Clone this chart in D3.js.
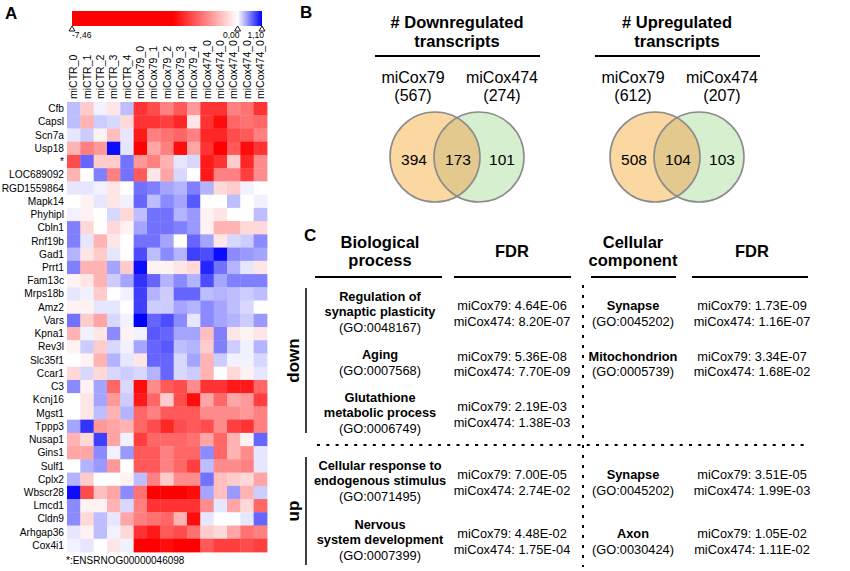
<!DOCTYPE html>
<html lang="en">
<head>
  <meta charset="UTF-8">
  <title>miCox heatmap, Venn and GO table</title>
  <style>
    body { margin: 0; background: #fff; }
    svg { display: block; font-family: "Liberation Sans", Arial, sans-serif; }
  </style>
</head>
<body>
  <div id="svg"></div>
  <script src="https://d3js.org/d3.v7.min.js"></script>
  <script>
// ---- data -------------------------------------------------------------
const colLabels = ['miCTR_0','miCTR_1','miCTR_2','miCTR_3','miCTR_4',
  'miCox79_0','miCox79_1','miCox79_2','miCox79_3','miCox79_4',
  'miCox474_0','miCox474_0','miCox474_0','miCox474_0','miCox474_0']
const rowLabels = ['Cfb','Capsl','Scn7a','Usp18','*','LOC689092','RGD1559864','Mapk14',
  'Phyhipl','Cbln1','Rnf19b','Gad1','Prrt1','Fam13c','Mrps18b','Amz2','Vars','Kpna1',
  'Rev3l','Slc35f1','Ccar1','C3','Kcnj16','Mgst1','Tppp3','Nusap1','Gins1','Sulf1',
  'Cplx2','Wbscr28','Lmcd1','Cldn9','Arhgap36','Cox4i1']
const heatValues = [
  [0.28,-0.58,0.06,-0.29,0.28,-2.32,-2.03,-1.45,-1.89,-1.16,-2.32,-2.32,-1.45,-1.6,-2.32],
  [0.28,-0.87,0.22,0.17,-0.44,-2.32,-2.32,-2.18,-2.47,-0.29,-2.32,-2.76,-1.74,-1.6,-1.74],
  [0.11,0.22,-0.15,-0.73,0.11,-2.61,-1.45,-1.6,-1.74,-1.45,-2.47,-2.47,-2.03,-1.89,-1.45],
  [-0.87,-1.45,-1.16,1.05,0.11,-2.9,-1.02,-1.45,-2.76,-1.02,-2.32,-2.9,-1.89,-2.76,-2.32],
  [-2.03,0.66,-0.58,-0.58,0.61,-1.16,-1.45,-0.87,0.11,0.17,-2.61,-2.32,-0.58,-2.47,-1.31],
  [-0.87,0,0.55,-1.45,0.61,-1.89,-0.29,-1.02,0.17,0,-2.61,-1.45,-1.45,-2.18,-1.31],
  [0.11,0.11,0.06,-0.29,0,0.61,0.55,0.39,0.33,0.55,0.33,-0.44,-0.58,0.06,0],
  [0,-0.15,0.11,-0.29,0.06,0.66,0.28,0.5,0.39,0.72,0,0,0.28,0,0.06],
  [0.06,-0.15,0,0.17,-0.44,0.28,0.61,0.61,0.33,0.44,-0.15,-0.29,0,0,0.28],
  [0.55,-0.44,0,-0.44,-0.15,0.39,0.61,0.61,0.55,0.44,-0.15,-0.87,-0.87,-0.44,-0.44],
  [0.55,0.11,-0.87,-0.29,0,0.61,0.61,0.39,0,0.66,0.39,-0.29,0.17,0.22,0.5],
  [0.33,-0.29,-0.58,0.11,0,0.77,0.28,0.5,0.33,0.83,0.77,1.05,0.5,0.44,0.39],
  [0.55,-0.87,-0.87,0.39,-0.58,1.05,-0.15,-0.15,-0.29,-0.44,0.94,0.61,0.33,0.11,-0.29],
  [-0.15,-0.29,-0.87,0.22,0.39,0.88,0.66,0.33,0.5,0.33,0.77,0.39,0.55,0.55,0.55],
  [0.11,0.06,-0.58,0,0.06,0.83,0.33,0.22,0.66,0.66,0.28,0.33,0.28,0.22,0.28],
  [-0.15,-0.15,0.11,0.11,0,0.83,0.22,0.22,0.39,0.33,0.5,0.39,0.28,0.17,0],
  [0.61,-0.58,-1.02,0.17,0.06,1.1,0.66,0.77,0.5,0.11,0.5,0.39,0.33,0.22,0.44],
  [-0.87,0.06,-0.29,0.5,-0.15,0.06,0.72,0.66,0.39,0.39,-0.73,0.55,-0.29,-0.15,-0.29],
  [-0.15,0.22,-0.58,0.17,0.06,0.39,0.66,0.72,0.28,0.33,-0.58,0.55,0.22,0.06,0.33],
  [0,-0.15,-0.87,0.33,0.11,-0.29,0.66,0.66,0.17,0.39,-0.87,0.22,0.06,0.06,0.17],
  [-0.44,0.17,-0.44,0.17,0.22,0.17,0.33,0.66,0.17,0.22,-0.87,0,-0.44,-0.15,0.11],
  [0.5,-0.15,0.39,-1.74,0.17,-2.76,-1.31,-1.89,-2.03,-1.31,-2.32,-2.32,-2.61,-2.61,-1.74],
  [0,-0.29,0.39,-1.16,0.22,-2.61,-1.74,-0.58,-2.03,-2.76,-1.02,-1.74,-1.02,-1.16,-2.18],
  [0,-0.29,0.28,-0.87,0.33,-1.74,-1.45,-1.89,-1.89,-1.89,-1.31,-1.31,-1.31,-1.16,-1.45],
  [0.39,0.88,-1.16,-1.02,-0.87,-1.74,-2.03,-2.47,-2.03,-1.89,-2.03,-1.31,-2.18,-2.32,-1.45],
  [-0.87,-0.44,0.83,-1.02,0.06,-2.18,-1.74,-1.74,-1.74,-1.6,-1.02,-1.74,-0.87,-0.15,0.66],
  [-1.02,-1.02,0.5,0.06,0.44,-1.89,-1.89,-1.45,-1.74,-1.74,0.5,-1.74,-0.87,-1.31,0.11],
  [0,0.33,0.44,-1.16,0,-1.89,-1.89,-1.45,-1.74,-2.18,0.28,-1.31,-1.31,-1.45,0.11],
  [0.33,-0.58,0,0,-0.15,0.28,-1.45,-0.58,-1.31,-1.31,0.61,-0.73,-0.58,-0.44,-1.02],
  [1.05,-2.03,-0.73,-1.02,0.5,-1.6,-2.9,-2.9,-2.9,-2.76,0.39,-0.73,0.44,-0.87,0.22],
  [0.5,-0.15,-0.15,-0.87,0.17,-1.45,-2.32,-2.32,-2.32,-2.32,-1.31,0.11,-1.02,-0.44,-1.74],
  [0.5,-0.44,0.28,0.11,-1.02,-1.45,-1.6,-1.74,-0.87,-2.76,0.11,0,0,0.11,0.66],
  [0.11,-0.15,0.28,0.06,-0.44,-2.32,-2.61,-1.89,-2.03,-1.6,-0.58,-0.44,-1.02,-1.6,-1.45],
  [0.06,0.11,0,-0.29,0.06,-2.9,-2.9,-2.76,-2.9,-2.9,-1.89,-2.18,-2.18,-2.03,-2.18]
]
const legendTicks = [-7.46, 0, 1.10]
const legendTickLabels = ['-7,46', '0,00', '1,10']
const footnote = '*:ENSRNOG00000046098'

const vennSets = ['miCox79', 'miCox474']
const vennTitles = [['# Downregulated', 'transcripts'], ['# Upregulated', 'transcripts']]
const vennTotals = [[567, 274], [612, 207]]
const vennCounts = [[394, 173, 101], [508, 104, 103]]

const goDirections = ['down', 'up']
const goRowDir = ['down', 'down', 'down', 'up', 'up']
const bpNames = [['Regulation of', 'synaptic plasticity'], ['Aging'], ['Glutathione', 'metabolic process'],
  ['Cellular response to', 'endogenous stimulus'], ['Nervous', 'system development']]
const bpIds = ['GO:0048167', 'GO:0007568', 'GO:0006749', 'GO:0071495', 'GO:0007399']
const bpFdr = [['4.64E-06', '8.20E-07'], ['5.36E-08', '7.70E-09'], ['2.19E-03', '1.38E-03'],
  ['7.00E-05', '2.74E-02'], ['4.48E-02', '1.75E-04']]
const ccNames = ['Synapse', 'Mitochondrion', null, 'Synapse', 'Axon']
const ccIds = ['GO:0045202', 'GO:0005739', null, 'GO:0045202', 'GO:0030424']
const ccFdr = [['1.73E-09', '1.16E-07'], ['3.34E-07', '1.68E-02'], null,
  ['3.51E-05', '1.99E-03'], ['1.05E-02', '1.11E-02']]

// ---- svg ----------------------------------------------------------------
const svg = d3.select('#svg').append('svg')
  .attr('width', 850).attr('height', 571)

function panelLetter(t, x, y) {
  svg.append('text').attr('x', x).attr('y', y)
    .attr('font-size', 17).attr('font-weight', 'bold').text(t)
}

// ---- A: heatmap ----------------------------------------------------------
panelLetter('A', 5, 19)

const color = d3.scaleLinear()
  .domain([-7.46, -2.9, 0, 1.10])
  .range(['#ff0000', '#ff0000', '#ffffff', '#0000ff'])
  .clamp(true)

const xHeat = d3.scaleBand().domain(d3.range(colLabels.length)).range([67, 267])
const yHeat = d3.scaleBand().domain(rowLabels).range([102, 552])

const cells = []
heatValues.forEach((row, i) => row.forEach((v, j) => cells.push({row: rowLabels[i], col: j, v})))

svg.append('g').selectAll('rect')
  .data(cells)
  .enter()
  .append('rect')
    .attr('x', d => xHeat(d.col))
    .attr('y', d => yHeat(d.row))
    .attr('width', xHeat.bandwidth() + 0.4)
    .attr('height', yHeat.bandwidth() + 0.4)
    .attr('fill', d => color(d.v))

svg.append('g').selectAll('text')
  .data(rowLabels)
  .enter()
  .append('text')
    .attr('x', 64)
    .attr('y', d => yHeat(d) + yHeat.bandwidth() / 2)
    .attr('dy', '0.35em')
    .attr('text-anchor', 'end')
    .attr('font-size', 10.2)
    .text(d => d)

svg.append('g').selectAll('text')
  .data(colLabels)
  .enter()
  .append('text')
    .attr('transform', (d, i) => `translate(${xHeat(i) + xHeat.bandwidth() / 2 + 3.8},99) rotate(-90)`)
    .attr('font-size', 10.5)
    .text(d => d)

svg.append('text')
  .attr('x', 66).attr('y', 564)
  .attr('font-size', 10)
  .text(footnote)

// colour bar
const xLegend = d3.scaleLinear().domain([-7.46, 1.10]).range([72, 262])
const grad = svg.append('defs').append('linearGradient').attr('id', 'heatgrad')
color.domain().forEach(v => {
  grad.append('stop')
    .attr('offset', (xLegend(v) - 72) / 190)
    .attr('stop-color', color(v))
})
svg.append('rect')
  .attr('x', 72).attr('y', 11).attr('width', 190).attr('height', 15)
  .attr('fill', 'url(#heatgrad)')

svg.append('g').selectAll('path')
  .data(legendTicks)
  .enter()
  .append('path')
    .attr('d', d => `M${xLegend(d) - 3},31 L${xLegend(d)},26 L${xLegend(d) + 3},31 Z`)
    .attr('fill', '#fff').attr('stroke', '#000').attr('stroke-width', 0.9)

svg.append('g').selectAll('text')
  .data(legendTicks)
  .enter()
  .append('text')
    .attr('x', (d, i) => i === 0 ? xLegend(d) : xLegend(d) + 2)
    .attr('y', 37.5)
    .attr('text-anchor', (d, i) => i === 0 ? 'start' : 'end')
    .attr('font-size', 8.5)
    .text((d, i) => legendTickLabels[i])

// ---- B: Venn diagrams ----------------------------------------------------
panelLetter('B', 300, 18)

const vennCenter = d3.scalePoint().domain([0, 1]).range([457, 677])
const circleX = d3.scalePoint().domain(vennSets).range([-22, 22])
const setLabelX = d3.scalePoint().domain(vennSets).range([-44, 45])
const countX = d3.scalePoint().domain([0, 1, 2]).range([-43, 45])
const vennR = 45, vennY = 157
const fills = {miCox79: '#fbd7a2', miCox474: '#d6f0cf'}

vennTitles.forEach((title, k) => {
  const cx = vennCenter(k)
  const g = svg.append('g')

  g.selectAll('text.title')
    .data(title)
    .enter()
    .append('text')
      .attr('x', cx)
      .attr('y', (d, i) => 22 + i * 19)
      .attr('dy', '0.35em')
      .attr('text-anchor', 'middle')
      .attr('font-size', 16.5).attr('font-weight', 'bold')
      .text(d => d)

  g.append('line')
    .attr('x1', cx - 82).attr('x2', cx + 83)
    .attr('y1', 56).attr('y2', 56)
    .attr('stroke', '#000').attr('stroke-width', 2)

  vennSets.forEach((s, i) => {
    g.append('text')
      .attr('x', cx + setLabelX(s)).attr('y', 77).attr('dy', '0.35em')
      .attr('text-anchor', 'middle').attr('font-size', 16).text(s)
    g.append('text')
      .attr('x', cx + setLabelX(s)).attr('y', 95).attr('dy', '0.35em')
      .attr('text-anchor', 'middle').attr('font-size', 16).text(`(${vennTotals[k][i]})`)
  })

  g.selectAll('circle.fill')
    .data(vennSets)
    .enter()
    .append('circle')
      .attr('cx', d => cx + circleX(d)).attr('cy', vennY).attr('r', vennR)
      .attr('fill', d => fills[d])

  const clipId = 'clip' + k
  svg.append('clipPath').attr('id', clipId)
    .append('circle')
      .attr('cx', cx + circleX(vennSets[1])).attr('cy', vennY).attr('r', vennR)
  g.append('circle')
    .attr('cx', cx + circleX(vennSets[0])).attr('cy', vennY).attr('r', vennR)
    .attr('fill', '#e3c98d')
    .attr('clip-path', `url(#${clipId})`)

  g.selectAll('circle.edge')
    .data(vennSets)
    .enter()
    .append('circle')
      .attr('cx', d => cx + circleX(d)).attr('cy', vennY).attr('r', vennR)
      .attr('fill', 'none').attr('stroke', '#8c8c8c').attr('stroke-width', 1.6)

  g.selectAll('text.count')
    .data(vennCounts[k])
    .enter()
    .append('text')
      .attr('x', (d, i) => cx + countX(i)).attr('y', 160).attr('dy', '0.35em')
      .attr('text-anchor', 'middle').attr('font-size', 15.5)
      .text(d => d)
})

// ---- C: GO table ---------------------------------------------------------
panelLetter('C', 304, 241)

const colX = {bp: 380, fdr1: 512, cc: 633, fdr2: 752}
const headers = [
  {x: colX.bp, lines: ['Biological', 'process'], x1: 315, x2: 442},
  {x: colX.fdr1, lines: ['FDR'], x1: 454, x2: 571},
  {x: colX.cc, lines: ['Cellular', 'component'], x1: 591, x2: 676},
  {x: colX.fdr2, lines: ['FDR'], x1: 692, x2: 808}
]
headers.forEach(h => {
  h.lines.forEach((t, i) => {
    svg.append('text')
      .attr('x', h.x).attr('y', 251 + (i - (h.lines.length - 1) / 2) * 18).attr('dy', '0.35em')
      .attr('text-anchor', 'middle').attr('font-size', 16.5).attr('font-weight', 'bold')
      .text(t)
  })
  svg.append('line')
    .attr('x1', h.x1).attr('x2', h.x2).attr('y1', 277).attr('y2', 277)
    .attr('stroke', '#000').attr('stroke-width', 2)
})

// row centres inside each direction block
const blockY = {
  down: d3.scalePoint().domain([0, 1, 2]).range([312, 413]),
  up: d3.scalePoint().domain([0, 1]).range([481, 540])
}
const rowY = goRowDir.map((dir, i) => blockY[dir](goRowDir.slice(0, i).filter(d => d === dir).length))

function block(x, lines, y, boldCount) {
  lines.forEach((t, i) => {
    svg.append('text')
      .attr('x', x).attr('y', y + (i - (lines.length - 1) / 2) * 15.5).attr('dy', '0.35em')
      .attr('text-anchor', 'middle').attr('font-size', 12.8)
      .attr('font-weight', i < boldCount ? 'bold' : 'normal')
      .text(t)
  })
}

bpNames.forEach((name, i) => {
  const y = rowY[i]
  block(colX.bp, name.concat([`(${bpIds[i]})`]), y, name.length)
  block(colX.fdr1, [`miCox79: ${bpFdr[i][0]}`, `miCox474: ${bpFdr[i][1]}`], y + 1.5, 0)
  if (ccNames[i]) {
    block(colX.cc, [ccNames[i], `(${ccIds[i]})`], y + 1.5, 1)
    block(colX.fdr2, [`miCox79: ${ccFdr[i][0]}`, `miCox474: ${ccFdr[i][1]}`], y + 1.5, 0)
  }
})

// direction labels and brackets
const dirSpan = {down: [288, 433], up: [457, 565]}
goDirections.forEach(dir => {
  const [y1, y2] = dirSpan[dir]
  svg.append('line')
    .attr('x1', 306).attr('x2', 306).attr('y1', y1).attr('y2', y2)
    .attr('stroke', '#000').attr('stroke-width', 1.5)
  svg.append('text')
    .attr('transform', `translate(293,${(y1 + y2) / 2}) rotate(-90)`)
    .attr('dy', '0.35em')
    .attr('text-anchor', 'middle').attr('font-size', 17).attr('font-weight', 'bold')
    .text(dir)
})

svg.append('line')
  .attr('x1', 317).attr('x2', 808).attr('y1', 445).attr('y2', 445)
  .attr('stroke', '#000').attr('stroke-width', 2).attr('stroke-dasharray', '3,6.3')
svg.append('line')
  .attr('x1', 583).attr('x2', 583).attr('y1', 285).attr('y2', 567)
  .attr('stroke', '#000').attr('stroke-width', 2).attr('stroke-dasharray', '3,7')
  </script>
</body>
</html>
